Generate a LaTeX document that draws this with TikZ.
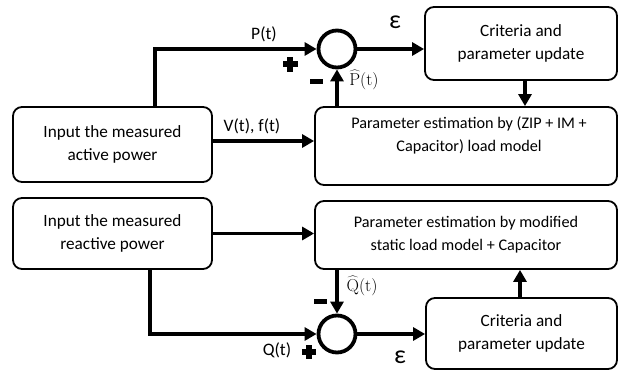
\documentclass[tikz,border=0pt]{standalone}
\usepackage[no-math]{fontspec}
\setmainfont{Carlito}
\usetikzlibrary{arrows.meta}
\tikzset{
  box/.style={draw, line width=1.8pt, rounded corners=9pt, inner sep=0pt, align=center},
  bigtxt/.style={font=\fontsize{17.2}{22.5}\selectfont},
  partxt/.style={font=\fontsize{16.2}{23}\selectfont, align=center},
  sumnode/.style={circle, draw, line width=3.8pt, minimum size=37pt, inner sep=0pt},
  arr/.style={line width=3.5pt, -{Triangle[length=12pt,width=13pt]}},
  lbl/.style={font=\fontsize{17.5}{19}\selectfont, inner sep=0pt},
  eps/.style={font=\fontsize{26}{28}\selectfont, inner sep=0pt},
  hatlbl/.style={font=\fontsize{16}{18}\selectfont, inner sep=0pt},
  sign/.style={fill=black}
}
\begin{document}
\begin{tikzpicture}[x=1pt,y=-1pt]
\useasboundingbox (0,0) rectangle (618,372);
% boxes
\node[box, bigtxt, minimum width=199pt, minimum height=75pt] (act) at (112.5,144.5) {Input the measured\\active power};
\node[box, bigtxt, minimum width=199pt, minimum height=71pt] (react) at (112.5,233.5) {Input the measured\\reactive power};
\node[box, bigtxt, minimum width=192pt, minimum height=73pt] (crit1) at (521,43.5) {Criteria and\\parameter update};
\node[box, minimum width=302pt, minimum height=78pt] (par1) at (466,146) {};
\node[partxt] (par1t) at (469,135.5) {Parameter estimation by (ZIP + IM +\\Capacitor) load model};
\node[box, partxt, minimum width=302pt, minimum height=68pt] (par2) at (466,235) {Parameter estimation by modified\\static load model + Capacitor};
\node[box, bigtxt, minimum width=191pt, minimum height=71pt] (crit2) at (521.5,333.5) {Criteria and\\parameter update};
% summing junctions
\node[sumnode] (sum1) at (337,49) {};
\node[sumnode] (sum2) at (337,334) {};
% connectors
\draw[arr] ([xshift=42.5pt]act.north) |- (sum1.west);
\draw[arr] ([yshift=3.5pt]act.east) -- ([yshift=3.5pt]act.east -| par1.west);
\draw[arr] (sum1.east) -- (sum1.east -| crit1.west);
\draw[arr] ([xshift=4pt]crit1.south) -- ([xshift=4pt]crit1.south |- par1.north);
\draw[arr] (sum1.south |- par1.north) -- (sum1.south);
\draw[arr] (react.east) -- (react.east -| par2.west);
\draw[arr] ([xshift=37.5pt]react.south) |- (sum2.west);
\draw[arr] (sum2.north |- par2.south) -- (sum2.north);
\draw[arr] (sum2.east) -- (sum2.east -| crit2.west);
\draw[arr] ([xshift=-1.5pt]crit2.north) -- ([xshift=-1.5pt]crit2.north |- par2.south);
% labels
\node[lbl] (lp) at (264,34) {P(t)};
\node[lbl] (lvf) at (252,126) {V(t), f(t)};
\node[lbl] (lq) at (277,350) {Q(t)};
\node[eps] (e1) at (395,22) {ε};
\node[eps] (e2) at (400,357) {ε};
\node[hatlbl] (lph) at (364,80) {$\widehat{\mathrm{P}}(\mathrm{t})$};
\node[hatlbl] (lqh) at (362,286) {$\widehat{\mathrm{Q}}(\mathrm{t})$};
% signs
\fill[sign] (282.5,61.25) rectangle (297.5,66.75);
\fill[sign] (287.25,56.5) rectangle (292.75,71.5);
\fill[sign] (309.5,78.5) rectangle (322.5,83.5);
\fill[sign] (313.5,298.5) rectangle (326.5,303.5);
\fill[sign] (302,349.25) rectangle (316,354.75);
\fill[sign] (306.25,345) rectangle (311.75,359);
\end{tikzpicture}
\end{document}
